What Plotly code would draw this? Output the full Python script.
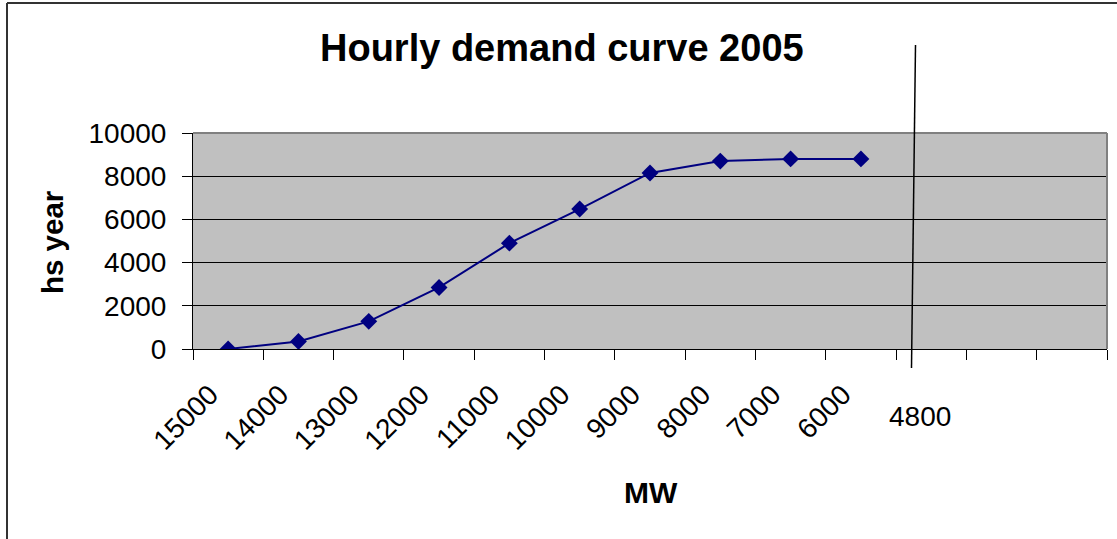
import plotly.graph_objects as go

categories = ["15000", "14000", "13000", "12000", "11000", "10000", "9000", "8000", "7000", "6000"]
hours = [0, 350, 1280, 2850, 4900, 6480, 8150, 8700, 8800, 8800]
n_slots = 13
y_ticks = [0, 2000, 4000, 6000, 8000, 10000]
y_tick_text = ["0", "2000", "4000", "6000", "8000", "10000"]
marker_label = "4800"

W, H = 1117, 539
L, R, T, B = 193, 10, 133, 190
pw, ph = W - L - R, H - T - B

def px(x):
    return (x - L) / pw

def py(y):
    return (H - B - y) / ph

FONT = "Liberation Sans, Arial, sans-serif"

fig = go.Figure()
fig.add_trace(go.Scatter(
    x=list(range(len(categories))), y=hours,
    mode="lines+markers",
    line=dict(color="#000080", width=2),
    marker=dict(symbol="diamond", size=13, color="#000080"),
    showlegend=False,
))

fig.update_layout(
    width=W, height=H,
    margin=dict(l=L, r=R, t=T, b=B),
    paper_bgcolor="white",
    plot_bgcolor="#C0C0C0",
    font=dict(family=FONT, size=28, color="black"),
    xaxis=dict(
        range=[-0.5, n_slots - 0.5],
        tickmode="array",
        tickvals=list(range(len(categories))),
        ticktext=categories,
        tickangle=-45,
        ticks="",
        showgrid=False, zeroline=False,
        showline=True, linecolor="black", linewidth=1,
        ticklabelstandoff=17,
        ticklabelshift=-18,
        minor=dict(tickmode="array", tickvals=[i - 0.5 for i in range(n_slots + 1)],
                   ticks="outside", ticklen=10, tickcolor="black", tickwidth=1, showgrid=False),
        tickfont=dict(size=28),
    ),
    yaxis=dict(
        range=[0, 10000],
        tickmode="array", tickvals=y_ticks, ticktext=y_tick_text,
        ticks="outside", ticklen=10, tickcolor="black",
        showgrid=True, gridcolor="black", gridwidth=1,
        zeroline=False,
        showline=True, linecolor="black", linewidth=1,
        ticklabelstandoff=10,
        tickfont=dict(size=28),
    ),
)

shapes = [
    dict(type="line", xref="paper", yref="paper", x0=0, x1=1, y0=1, y1=1, line=dict(color="#808080", width=2)),
    dict(type="line", xref="paper", yref="paper", x0=1, x1=1, y0=0, y1=1, line=dict(color="#808080", width=2)),
    dict(type="line", xref="paper", yref="paper", x0=px(7), x1=px(7), y0=py(3), y1=py(560), line=dict(color="#333333", width=2)),
    dict(type="line", xref="paper", yref="paper", x0=px(7), x1=px(1130), y0=py(3), y1=py(3), line=dict(color="#333333", width=2)),
    dict(type="line", xref="paper", yref="paper", x0=px(915.5), x1=px(911.5), y0=py(45), y1=py(368), line=dict(color="black", width=1.5)),
]
fig.update_layout(shapes=shapes)

annotations = [
    dict(text="<b>Hourly demand curve 2005</b>", x=px(562), y=py(48), xref="paper", yref="paper",
         showarrow=False, font=dict(size=38, family=FONT), xanchor="center", yanchor="middle"),
    dict(text="<b>hs year</b>", x=px(52), y=py(242), xref="paper", yref="paper", textangle=-90,
         showarrow=False, font=dict(size=29.5, family=FONT), xanchor="center", yanchor="middle"),
    dict(text="<b>MW</b>", x=px(651), y=py(493), xref="paper", yref="paper",
         showarrow=False, font=dict(size=30, family=FONT), xanchor="center", yanchor="middle"),
    dict(text=marker_label, x=px(920), y=py(416), xref="paper", yref="paper",
         showarrow=False, font=dict(size=28, family=FONT), xanchor="center", yanchor="middle"),
]
fig.update_layout(annotations=annotations)

fig.write_html("out.html", config={"displayModeBar": False},
               post_script="document.body.style.margin='0';document.body.style.overflow='hidden';")
